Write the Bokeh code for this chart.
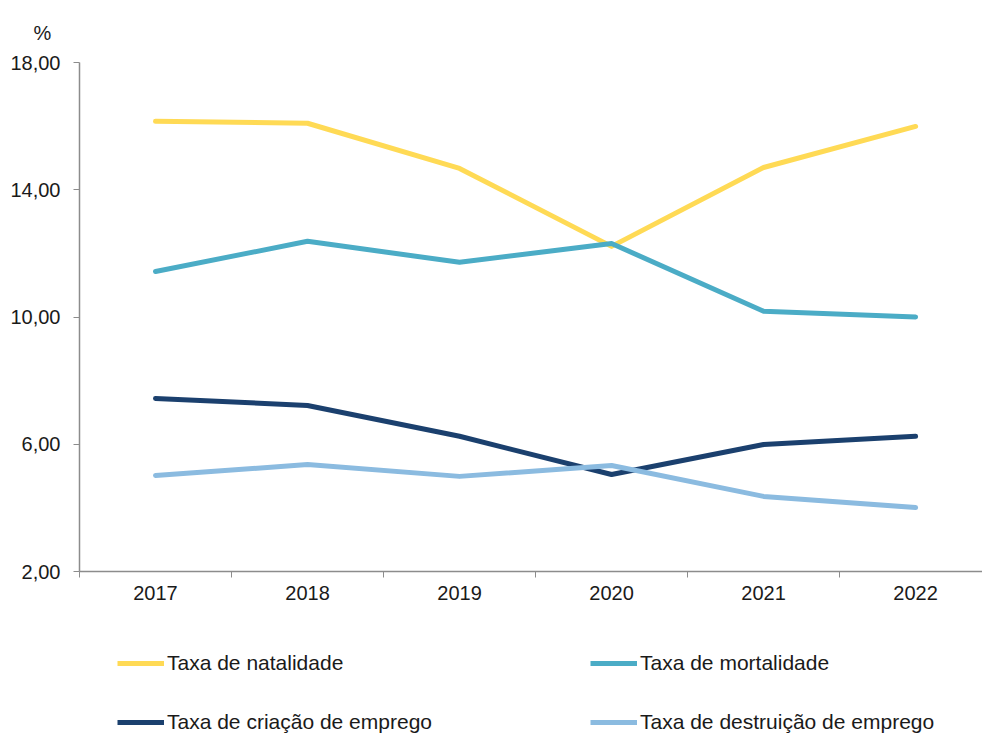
from bokeh.plotting import figure
from bokeh.layouts import column
from bokeh.models import Range1d, FixedTicker, Legend, LegendItem, Title
from bokeh.embed import file_html
from bokeh.resources import INLINE

years = ["2017", "2018", "2019", "2020", "2021", "2022"]
natalidade = [16.15, 16.09, 14.67, 12.22, 14.70, 15.99]
mortalidade = [11.43, 12.38, 11.72, 12.31, 10.18, 10.00]
criacao = [7.44, 7.22, 6.25, 5.05, 5.99, 6.25]
destruicao = [5.02, 5.36, 4.99, 5.33, 4.36, 4.01]
y_ticks = [2, 6, 10, 14, 18]

names = ["Taxa de natalidade", "Taxa de mortalidade",
         "Taxa de criação de emprego", "Taxa de destruição de emprego"]
series = [natalidade, mortalidade, criacao, destruicao]
colors = ["#FFDA55", "#4BACC6", "#1B406E", "#8BBBE0"]

FONT = "Liberation Sans"
FS = "20px"
LW = 5

xs = list(range(len(years)))

p = figure(width=982, height=620, output_backend="svg", toolbar_location=None,
           x_range=Range1d(-0.5, 5.44), y_range=Range1d(2, 18),
           min_border_left=79, min_border_right=0, min_border_top=62,
           min_border_bottom=49)
p.outline_line_color = None
p.grid.grid_line_color = None

for vals, c in zip(series, colors):
    p.line(xs, vals, line_color=c, line_width=LW, line_join="round", line_cap="round")

# x axis
p.xaxis.ticker = FixedTicker(ticks=xs, minor_ticks=[i - 0.5 for i in range(len(years) + 1)])
p.xaxis.major_label_overrides = {i: y for i, y in enumerate(years)}
p.xaxis.major_tick_out = 0
p.xaxis.major_tick_in = 0
p.xaxis.minor_tick_out = 6
p.xaxis.minor_tick_in = 0
p.xaxis.minor_tick_line_color = "#8c8c8c"
p.xaxis.axis_line_color = "#8c8c8c"
p.xaxis.axis_line_width = 1.5
p.xaxis.major_label_standoff = 8
p.xaxis.major_label_text_font = FONT
p.xaxis.major_label_text_font_size = FS
p.xaxis.major_label_text_color = "#1a1a1a"

# y axis
p.yaxis.ticker = FixedTicker(ticks=y_ticks, minor_ticks=[])
p.yaxis.major_label_overrides = {t: f"{t:.2f}".replace(".", ",") for t in y_ticks}
p.yaxis.major_tick_out = 6
p.yaxis.major_tick_in = 0
p.yaxis.major_tick_line_color = "#8c8c8c"
p.yaxis.axis_line_color = "#8c8c8c"
p.yaxis.axis_line_width = 1.5
p.yaxis.major_label_standoff = 13
p.yaxis.major_label_text_font = FONT
p.yaxis.major_label_text_font_size = FS
p.yaxis.major_label_text_color = "#1a1a1a"

# "%" unit label
t = Title(text="%", align="left", offset=-46, text_font=FONT, text_font_size=FS,
          text_font_style="normal", text_color="#1a1a1a", standoff=37)
p.add_layout(t, "above")

# legend strip (lines drawn outside its visible range; only the legend shows)
lg = figure(width=982, height=113, output_backend="svg", toolbar_location=None,
            x_range=Range1d(100, 101), y_range=Range1d(100, 101),
            min_border_left=0, min_border_right=0, min_border_top=0, min_border_bottom=0)
lg.axis.visible = False
lg.grid.grid_line_color = None
lg.outline_line_color = None
leg_renderers = [lg.line(xs, vals, line_color=c, line_width=LW) for vals, c in zip(series, colors)]

order = [0, 2, 1, 3]  # fill column-wise so reading is row-wise
legend = Legend(items=[LegendItem(label=names[i], renderers=[leg_renderers[i]]) for i in order],
                ncols=2, location=(38, -1),
                glyph_width=47, glyph_height=24, label_height=24, label_standoff=3,
                label_width=388, spacing=35, padding=0, margin=0,
                border_line_color=None, background_fill_alpha=0,
                label_text_font=FONT, label_text_font_size="21px", label_text_color="#1a1a1a")
lg.add_layout(legend, "center")

layout = column(p, lg, spacing=0)
open("out.html", "w").write(file_html(layout, INLINE))
